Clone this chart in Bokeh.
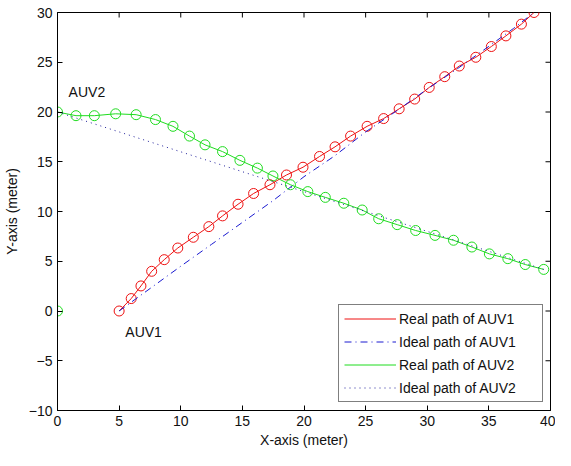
import math
from bokeh.plotting import figure
from bokeh.models import FixedTicker, Range1d, Legend, LegendItem, Label
from bokeh.embed import file_html
from bokeh.resources import INLINE

# ---- data ----
auv1_real_x = [5.0, 5.98, 6.77, 7.64, 8.66, 9.76, 11.02, 12.28, 13.39, 14.65, 15.91, 17.24,
               18.58, 19.92, 21.26, 22.52, 23.78, 25.12, 26.46, 27.72, 28.98, 30.16, 31.42,
               32.60, 33.94, 35.20, 36.38, 37.64, 38.66]
auv1_real_y = [0.0, 1.25, 2.52, 3.99, 5.16, 6.33, 7.41, 8.48, 9.56, 10.73, 11.81, 12.69,
               13.67, 14.45, 15.53, 16.50, 17.58, 18.56, 19.34, 20.32, 21.30, 22.47, 23.55,
               24.62, 25.50, 26.58, 27.65, 28.83, 30.0]

auv1_ideal_x = [5.0, 7.0, 10.0, 12.5, 15.0, 17.5, 20.0, 22.5, 25.0, 27.5, 30.0, 32.5, 35.0, 37.0, 38.66]
auv1_ideal_y = [0.0, 1.8, 4.5, 6.7, 8.9, 11.1, 13.5, 15.6, 18.0, 20.1, 22.3, 24.4, 26.6, 28.4, 30.0]

auv2_real_x = [0.0, 1.50, 2.99, 4.72, 6.38, 7.95, 9.37, 10.71, 11.97, 13.39, 14.80, 16.22,
               17.48, 18.90, 20.31, 21.73, 23.23, 24.72, 26.06, 27.56, 29.06, 30.63, 32.13,
               33.62, 35.04, 36.54, 37.95, 39.45]
auv2_real_y = [20.0, 19.63, 19.63, 19.82, 19.73, 19.24, 18.56, 17.58, 16.70, 16.02, 15.14, 14.36,
               13.57, 12.69, 12.00, 11.42, 10.83, 10.15, 9.27, 8.68, 8.09, 7.60, 7.11,
               6.43, 5.74, 5.26, 4.67, 4.18]

auv2_ideal_x = [0.0, 5.0, 10.0, 15.0, 20.0, 25.0, 30.0, 35.0, 39.45]
auv2_ideal_y = [20.0, 18.0, 16.0, 14.0, 12.0, 10.0, 8.0, 6.0, 4.18]

auv2_extra_x = [0.0]
auv2_extra_y = [0.0]

x_ticks = [0, 5, 10, 15, 20, 25, 30, 35, 40]
y_ticks = [-10, -5, 0, 5, 10, 15, 20, 25, 30]
x_min, x_max = 0, 40
y_min, y_max = -10, 30

legend_labels = ["Real path of AUV1", "Ideal path of AUV1", "Real path of AUV2", "Ideal path of AUV2"]
note_text = ["AUV2", "AUV1"]
note_x = [0.9, 5.5]
note_y = [22.0, -2.1]

RED = "#ee1111"
BLUE = "#1a1ad0"
GREEN = "#1fdc1f"
NAVY = "#20209a"
FONT = "Liberation Sans"

p = figure(width=555, height=450, output_backend="svg", toolbar_location=None,
           x_range=Range1d(x_min, x_max), y_range=Range1d(y_min, y_max),
           min_border_left=57, min_border_right=5, min_border_top=12, min_border_bottom=38)
p.background_fill_color = "white"
p.border_fill_color = "white"
p.outline_line_color = "black"
p.outline_line_width = 1
p.xgrid.grid_line_color = None
p.ygrid.grid_line_color = None

xb = p.below[0]
yl = p.left[0]


def style(ax, ticks):
    ax.ticker = FixedTicker(ticks=ticks)
    ax.major_tick_in = 5
    ax.major_tick_out = 0
    ax.minor_tick_line_color = None
    ax.axis_line_color = "black"
    ax.major_tick_line_color = "black"
    ax.major_label_text_font = FONT
    ax.major_label_text_color = "#111111"
    ax.major_label_text_font_size = "14px"
    ax.major_label_standoff = 5


style(xb, x_ticks)
style(yl, y_ticks)

xb.axis_label = "X-axis (meter)"
yl.axis_label = "Y-axis (meter)"
for ax in (xb, yl):
    ax.axis_label_text_font = FONT
    ax.axis_label_text_font_size = "14px"
    ax.axis_label_text_font_style = "normal"
    ax.axis_label_text_color = "#111111"
xb.axis_label_standoff = 3
yl.axis_label_standoff = 6

# inward ticks on the top and right edges of the box (outer half clipped by the frame)
p.scatter(x_ticks, [y_max] * len(x_ticks), marker="dash", size=10, angle=math.pi / 2,
          line_color="black", line_width=1)
p.scatter([x_max] * len(y_ticks), y_ticks, marker="dash", size=10,
          line_color="black", line_width=1)

r1 = p.line(auv1_real_x, auv1_real_y, line_color=RED, line_width=1)
p.scatter(auv1_real_x, auv1_real_y, marker="circle", size=10, fill_color=None,
          line_color=RED, line_width=1)
r2 = p.line(auv1_ideal_x, auv1_ideal_y, line_color=BLUE, line_width=1, line_dash="7 4 1 4")
r3 = p.line(auv2_real_x, auv2_real_y, line_color=GREEN, line_width=1)
p.scatter(auv2_real_x, auv2_real_y, marker="circle", size=10, fill_color=None,
          line_color=GREEN, line_width=1)
p.scatter(auv2_extra_x, auv2_extra_y, marker="circle", size=10, fill_color=None,
          line_color=GREEN, line_width=1)
r4 = p.line(auv2_ideal_x, auv2_ideal_y, line_color=NAVY, line_width=1, line_dash="1 4")

for t, xx, yy in zip(note_text, note_x, note_y):
    p.add_layout(Label(x=xx, y=yy, text=t, text_font=FONT, text_font_size="14px",
                       text_color="#111111", text_baseline="middle"))

legend = Legend(items=[LegendItem(label=legend_labels[0], renderers=[r1]),
                       LegendItem(label=legend_labels[1], renderers=[r2]),
                       LegendItem(label=legend_labels[2], renderers=[r3]),
                       LegendItem(label=legend_labels[3], renderers=[r4])],
                location=(281, 8))
legend.border_line_color = "black"
legend.border_line_width = 1
legend.background_fill_color = "white"
legend.background_fill_alpha = 1.0
legend.label_text_font = FONT
legend.label_text_font_size = "14px"
legend.label_text_color = "#111111"
legend.glyph_width = 52
legend.glyph_height = 17
legend.label_height = 17
legend.label_width = 138
legend.label_standoff = 3
legend.spacing = 6
legend.padding = 5
legend.margin = 0
p.add_layout(legend, "center")

open("out.html", "w").write(file_html(p, INLINE))
